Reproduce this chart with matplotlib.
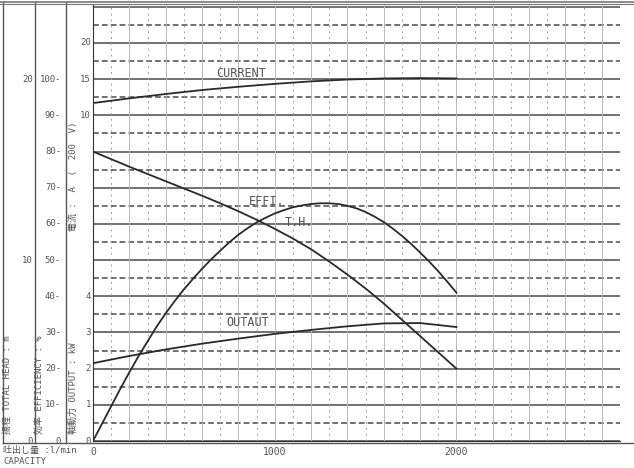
import matplotlib
matplotlib.use("Agg")
import matplotlib.pyplot as plt
from matplotlib.lines import Line2D
from matplotlib.transforms import blended_transform_factory
import numpy as np

# pump performance curves
flow = np.arange(0, 2001, 100)  # l/min
head_m = [16.0, 15.58, 15.16, 14.76, 14.36, 13.96, 13.56, 13.14, 12.7, 12.23, 11.73,
          11.19, 10.6, 9.92, 9.2, 8.43, 7.6, 6.7, 5.8, 4.9, 4.0]
flow_e = np.arange(0, 2001, 50)
eff_pct = [0, 4.8, 9.6, 14.4, 19.0, 23.4, 27.5, 31.6, 35.3, 38.7, 41.9,
           44.8, 47.6, 50.2, 52.6, 54.9, 57.0, 58.8, 60.4, 61.7, 62.9,
           63.8, 64.6, 65.1, 65.5, 65.7, 65.7, 65.5, 65.0, 64.3, 63.3,
           62.0, 60.5, 58.7, 56.7, 54.5, 52.1, 49.6, 46.9, 44.0, 41.0]
flow2 = np.arange(0, 2001, 200)
output_kw = [2.15, 2.35, 2.53, 2.69, 2.83, 2.96, 3.07, 3.17, 3.25, 3.26, 3.15]
current_a = [11.7, 12.35, 12.95, 13.5, 13.95, 14.35, 14.7, 14.95, 15.1, 15.15, 15.1]

eff_ticks = list(range(0, 101, 10))
head_ticks = [0, 10, 20]
kw_ticks = [0, 1, 2, 3, 4]
amp_ticks = [10, 15, 20]
x_ticks = [0, 1000, 2000]

# everything is drawn on the efficiency scale (0..120)
def head2y(h): return np.asarray(h) * 5.0
def kw2y(k): return np.asarray(k) * 10.0
def amp2y(a): return np.asarray(a) * 2.0 + 70.0

W, H = 634, 468
fig = plt.figure(figsize=(W / 100, H / 100), dpi=100)
fig.patch.set_facecolor("white")
ax = fig.add_axes([93 / W, (H - 441) / H, (620 - 93) / W, (441 - 5) / H])
ax.set_xlim(0, 2900)
ax.set_ylim(0, 120.5)

mono = ["DejaVu Sans Mono", "Noto Sans CJK JP"]
txt = "#555555"
ink = "#2a2a2a"

# grid
for v in range(0, 121, 10):
    ax.axhline(v, color="#4a4a4a", lw=1.1, zorder=1)
for v in range(5, 121, 10):
    ax.axhline(v, color="#4a4a4a", lw=1.1, dashes=(3.8, 2.0), zorder=1)
for q in range(100, 2901, 100):
    if q % 200 == 0:
        ax.axvline(q, color="#b8b8b8", lw=0.7, zorder=1)
    else:
        ax.axvline(q, color="#a0a0a0", lw=0.7, ls=(0, (2, 4)), zorder=1)

# curves
ax.plot(flow, head2y(head_m), color=ink, lw=1.3, zorder=3)
ax.plot(flow_e, eff_pct, color=ink, lw=1.3, zorder=3)
ax.plot(flow2, kw2y(output_kw), color=ink, lw=1.3, zorder=3)
ax.plot(flow2, amp2y(current_a), color=ink, lw=1.3, zorder=3)

lab = dict(family=mono, fontsize=8.5, color=txt, va="center", ha="left", zorder=4)
ax.text(680, 101.5, "CURRENT", **lab)
ax.text(860, 66.2, "EFFI.", **lab)
ax.text(1055, 60.5, "T.H.", **lab)
ax.text(735, 32.8, "OUTAUT", **lab)

for s in ["top", "right"]:
    ax.spines[s].set_visible(False)
ax.spines["left"].set_color("#333333")
ax.spines["bottom"].set_color("#333333")
ax.set_yticks([])
ax.set_xticks(x_ticks)
ax.set_xticklabels([str(t) for t in x_ticks], family=mono, fontsize=7, color=txt)
ax.tick_params(axis="x", length=0, pad=4)

# left-hand scale columns
tr = blended_transform_factory(fig.transFigure, ax.transData)
tk = dict(family=mono, fontsize=6.5, color=txt, va="center", ha="right", transform=tr)
for v in eff_ticks:
    fig.text(61 / W, v, f"{v}-" if v else "0", **tk)
for v in head_ticks:
    fig.text(33 / W, head2y(v), str(v), **tk)
for v in kw_ticks:
    fig.text(91 / W, kw2y(v), str(v), **tk)
for v in amp_ticks:
    fig.text(91 / W, amp2y(v), str(v), **tk)

rot = dict(family=mono, fontsize=6.5, color=txt, rotation=90, ha="center", va="bottom")
fig.text(8 / W, (H - 434) / H, "揚程 TOTAL HEAD : m", **rot)
fig.text(39 / W, (H - 434) / H, "効率 EFFICIENCY : %", **rot)
fig.text(73 / W, (H - 434) / H, "軸動力 OUTPUT : kW", **rot)
fig.text(73 / W, (H - 231) / H, "電流 :  A  (  200  V)", **rot)

bot = dict(family=mono, fontsize=6.5, color=txt, va="center", ha="left")
fig.text(3 / W, (H - 451) / H, "吐出し量 :l/min", **bot)
fig.text(3 / W, (H - 462) / H, "CAPACITY", **bot)

# frame lines of the sheet
frame = dict(color="#555555", lw=1.0, transform=fig.transFigure)
for x in [3, 35, 66]:
    fig.add_artist(Line2D([x / W, x / W], [(H - 2) / H, (H - 443) / H], **frame))
fig.add_artist(Line2D([3 / W, 1], [(H - 443) / H] * 2, **frame))
fig.add_artist(Line2D([0, 1], [(H - 1.5) / H] * 2, color="#777777", lw=1.2, transform=fig.transFigure))
fig.add_artist(Line2D([0, 1], [(H - 4) / H] * 2, color="#777777", lw=0.8, transform=fig.transFigure))

fig.savefig("out.png", dpi=100)
